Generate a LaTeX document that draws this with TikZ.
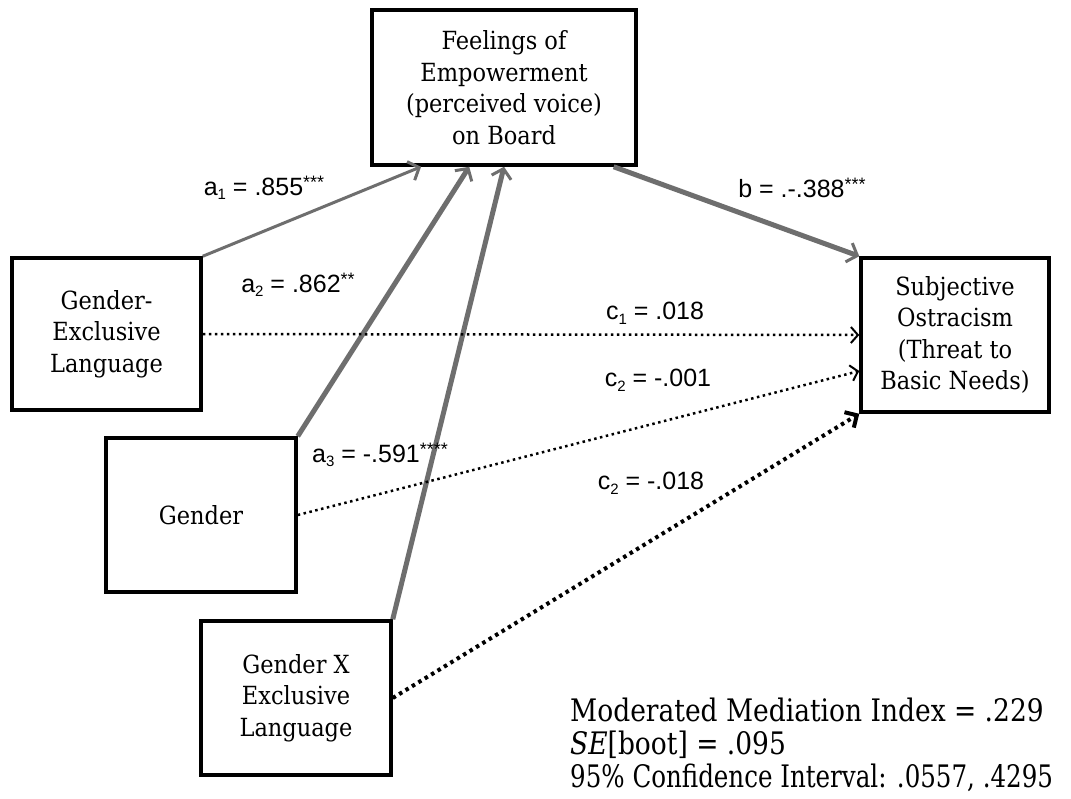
\documentclass[tikz,border=0pt]{standalone}
\usepackage{fontspec}
\setmainfont{DejaVu Serif Condensed}
\newfontfamily\labfont{Liberation Sans}
\usetikzlibrary{arrows.meta,shadows,calc}
\definecolor{arrgray}{HTML}{6E6E6E}
\newcommand\subs[1]{\raisebox{-0.35ex}{\fontsize{15}{15}\selectfont #1}}
\newcommand\stars[1]{\raisebox{0.5ex}{\fontsize{18}{18}\selectfont #1}}
\tikzset{
  box/.style={draw=black, line width=3.5pt, fill=white, align=center,
    inner sep=0pt, font=\fontsize{25}{31.5}\selectfont,
    drop shadow={shadow xshift=2pt, shadow yshift=-2pt, fill=black!30, opacity=0.5}},
  lab/.style={font=\labfont\fontsize{25}{28}\selectfont, inner sep=1pt},
  solidarr/.style={draw=arrgray, -{Straight Barb[length=9pt,width=20pt,line width=3pt]}},
  dotarr/.style={draw=black, line width=2.5pt, dash pattern=on 2.5pt off 3.5pt,
    -{Straight Barb[length=7pt,width=16pt,line width=2pt]}},
  thickdot/.style={draw=black, line width=4pt, dash pattern=on 3.5pt off 4pt,
    -{Straight Barb[length=9pt,width=18pt,line width=4pt]}},
}
\begin{document}
\begin{tikzpicture}[x=1pt,y=-1pt]
\useasboundingbox (0,0) rectangle (1071,798);
\fill[white] (0,0) rectangle (1071,798);

\node[box, minimum width=264pt, minimum height=155pt] (feel) at (504,87.5)
  {Feelings of\\Empowerment\\(perceived voice)\\on Board};
\node[box, minimum width=189pt, minimum height=152pt] (gel) at (106.5,334)
  {Gender-\\Exclusive\\Language};
\node[box, minimum width=190pt, minimum height=154pt] (gen) at (201,515)
  {Gender};
\node[box, minimum width=190pt, minimum height=154pt] (gx) at (296,698)
  {Gender X\\Exclusive\\Language};
\node[box, minimum width=188pt, minimum height=154pt] (so) at (955,335)
  {Subjective\\Ostracism\\(Threat to\\Basic Needs)};

% paths to mediator
\draw[solidarr, line width=3pt] (gel.north east) -- ($(feel.south west)!0.19!(feel.south east)$);
\draw[solidarr, line width=5pt] (gen.north east) -- ($(feel.south west)!0.37!(feel.south east)$);
\draw[solidarr, line width=5pt] (gx.north east) -- ($(feel.south west)!0.50!(feel.south east)$);
\draw[solidarr, line width=5pt] ($(feel.south west)!0.91!(feel.south east)$) -- (so.north west);

% direct paths
\draw[dotarr] (gel.east) -- (so.west);
\draw[dotarr] (gen.east) -- ($(so.west)+(0,36)$);
\draw[thickdot] (gx.east) -- (so.south west);

% labels
\node[lab] (la1) at (264,188) {a\subs{1} = .855\stars{***}};
\node[lab] (la2) at (298,285) {a\subs{2} = .862\stars{**}};
\node[lab] (la3) at (380,455) {a\subs{3} = -.591\stars{****}};
\node[lab] (lb) at (802,188) {b = .-.388\stars{***}};
\node[lab] (lc1) at (655,313) {c\subs{1} = .018};
\node[lab] (lc2) at (658,380) {c\subs{2} = -.001};
\node[lab] (lc3) at (651,483) {c\subs{2} = -.018};

\node[anchor=north west, align=left, inner sep=0pt,
  font=\fontsize{31}{33}\selectfont] (stats) at (570,698)
  {\scalebox{0.95}[1]{Moderated Mediation Index = .229}\\
   \scalebox{0.95}[1]{\textit{SE}[boot] = .095}\\
   \scalebox{0.88}[1]{95\% Confidence Interval: .0557, .4295}};
\end{tikzpicture}
\end{document}
